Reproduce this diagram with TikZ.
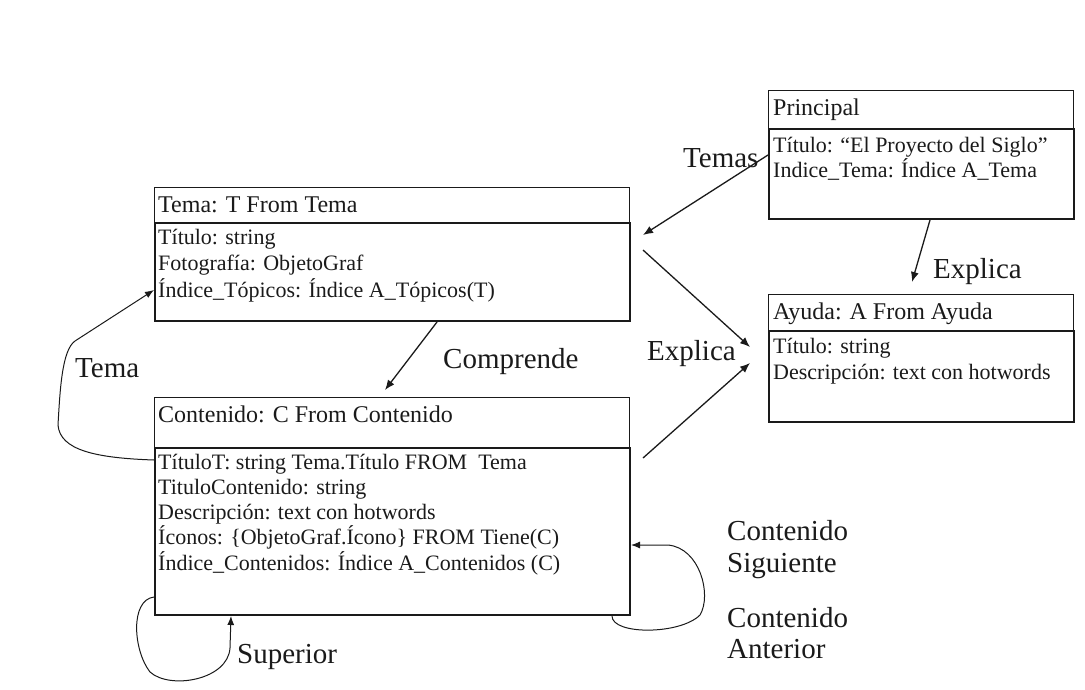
\documentclass[tikz,border=0pt]{standalone}
\usepackage{fontspec}
\setmainfont{Liberation Serif}
\usetikzlibrary{arrows.meta,calc}
\definecolor{ink}{HTML}{1A1A1A}
\begin{document}
\begin{tikzpicture}[x=1pt,y=-1pt,
  hdr/.style={draw=ink, line width=1pt, anchor=north west, inner sep=0pt},
  bdy/.style={draw=ink, line width=2pt, anchor=north west, inner sep=0pt},
  hdrtxt/.style={anchor=base west, inner sep=0pt, text=ink, font=\fontsize{24}{28}\selectfont},
  bdytxt/.style={anchor=base west, inner sep=0pt, text=ink, font=\fontsize{22}{25}\selectfont},
  lbl/.style={anchor=base west, inner sep=0pt, text=ink, font=\fontsize{29}{32}\selectfont},
  rel/.style={draw=ink, line width=1.3pt, -{Latex[length=10pt,width=8pt]}},
  loopline/.style={draw=ink, line width=1pt, -{Latex[length=9pt,width=7pt]}}]

\useasboundingbox (0,0) rectangle (1085,689);

% Tema
\node[hdr, minimum width=475pt, minimum height=35pt] (temaH) at (154,187) {};
\node[bdy, minimum width=475pt, minimum height=98pt] (temaB) at (154,222) {};
\node[hdrtxt] (temaT) at (158,212) {Tema: T From Tema};
\foreach \t [count=\i] in {{Título: string},{Fotografía: ObjetoGraf},{Índice\_Tópicos: Índice A\_Tópicos(T)}}
  \node[bdytxt] (temaL\i) at (158,{244+(\i-1)*26.5}) {\t};

% Contenido
\node[hdr, minimum width=475pt, minimum height=50pt] (contH) at (154,397) {};
\node[bdy, minimum width=475pt, minimum height=167pt] (contB) at (154,447) {};
\node[hdrtxt] (contT) at (158,422) {Contenido: C From Contenido};
\foreach \t [count=\i] in {{TítuloT: string Tema.Título FROM \ Tema},{TituloContenido: string},{Descripción: text con hotwords},{Íconos: \{ObjetoGraf.Ícono\} FROM Tiene(C)},{Índice\_Contenidos: Índice A\_Contenidos (C)}}
  \node[bdytxt] (contL\i) at (158,{469+(\i-1)*25.3}) {\t};

% Principal
\node[hdr, minimum width=305pt, minimum height=38pt] (prinH) at (768,90) {};
\node[bdy, minimum width=305pt, minimum height=90pt] (prinB) at (768,128) {};
\node[hdrtxt] (prinT) at (773,115) {Principal};
\node[bdytxt] (prinL1) at (773,152) {Título: “El Proyecto del Siglo”};
\node[bdytxt] (prinL2) at (773,177) {Indice\_Tema: Índice A\_Tema};

% Ayuda
\node[hdr, minimum width=305pt, minimum height=36pt] (ayuH) at (768,294) {};
\node[bdy, minimum width=305pt, minimum height=91pt] (ayuB) at (768,330) {};
\node[hdrtxt] (ayuT) at (773,319) {Ayuda: A From Ayuda};
\node[bdytxt] (ayuL1) at (773,353) {Título: string};
\node[bdytxt] (ayuL2) at (773,379) {Descripción: text con hotwords};

% free ends of the relationship arrows
\coordinate (temasEnd) at (643,235);
\coordinate (explEnd) at (912,282);
\coordinate (tAyS) at (643,250);
\coordinate (tAyE) at (750,347);
\coordinate (cAyS) at (643,458);
\coordinate (cAyE) at (750,363);
\coordinate (compS) at (437,322);
\coordinate (compE) at (385,390);

% relationships
\draw[rel] ($(prinB.north west)+(0,27)$) -- (temasEnd);
\draw[rel] ($(prinB.south west)+(162,0)$) -- (explEnd);
\draw[rel] (tAyS) -- (tAyE);
\draw[rel] (cAyS) -- (cAyE);
\draw[rel] (compS) -- (compE);

% Tema (Contenido -> Tema)
\draw[loopline] ($(contB.north west)+(0,13)$) .. controls (95,458) and (60,450) .. (58,425)
  .. controls (60,390) and (62,350) .. (75,341) -- ($(temaB.north west)+(0,68)$);
% Superior (self loop)
\draw[loopline] ($(contB.north west)+(0,150)$) .. controls (130,600) and (133,650) .. (150,672)
  .. controls (170,690) and (228,680) .. (230,648) -- ($(contB.south west)+(77,0)$);
% Contenido Siguiente / Anterior (self loop)
\draw[loopline] ($(contB.south east)+(-19,0)$) .. controls (612,635) and (680,635) .. (700,615)
  .. controls (712,595) and (700,548) .. (668,545) -- ($(contB.north east)+(0,98)$);

% labels
\node[lbl] (lblTemas) at (683,167) {Temas};
\node[lbl] (lblExpl1) at (933,278) {Explica};
\node[lbl] (lblExpl2) at (647,360) {Explica};
\node[lbl] (lblComp) at (443,368) {Comprende};
\node[lbl] (lblTema) at (75,377) {Tema};
\node[lbl] (lblSup) at (237,663) {Superior};
\node[lbl] (lblSig1) at (727,540) {Contenido};
\node[lbl] (lblSig2) at (727,572) {Siguiente};
\node[lbl] (lblAnt1) at (727,627) {Contenido};
\node[lbl] (lblAnt2) at (727,658) {Anterior};
\end{tikzpicture}
\end{document}
